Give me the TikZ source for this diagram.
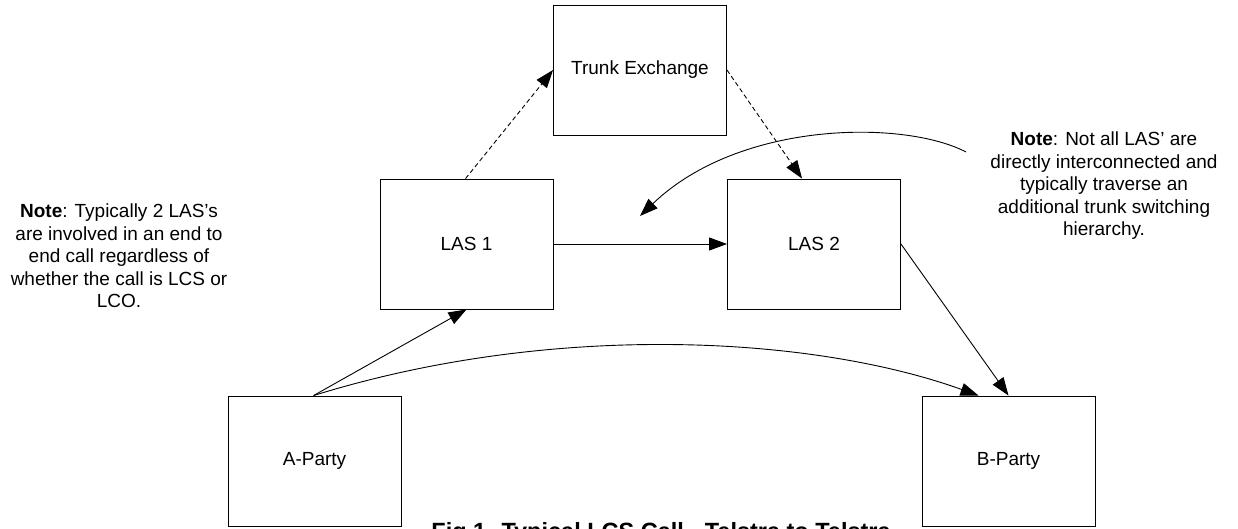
\documentclass[tikz,border=0pt]{standalone}
\usepackage{fontspec}
\setmainfont{Liberation Sans}
\usetikzlibrary{arrows.meta,positioning}

\begin{document}
\begin{tikzpicture}[x=1pt,y=-1pt,line width=0.9pt,
  font=\fontsize{19}{22.5}\selectfont,
  unit/.style={draw,minimum width=173pt,minimum height=130pt,inner sep=0pt},
  note/.style={align=center,inner sep=0pt},
  link/.style={-{Triangle[length=18pt,width=13pt]}},
  trunk/.style={link,dash pattern=on 4.5pt off 3pt}]
\useasboundingbox (0,0) rectangle (1238,529);
% exchanges
\node[unit] (te) at (640,70) {Trunk Exchange};
\node[unit] (las1) at (466.5,244) {LAS 1};
\node[unit] (las2) at (814,244) {LAS 2};
% parties
\node[unit] (ap) at (314.5,461) {A-Party};
\node[unit] (bp) at (1008.5,461) {B-Party};
% notes
\node[note] (n1) at (119,256) {\textbf{Note}: Typically 2 LAS’s\\are involved in an end to\\end call regardless of\\whether the call is LCS or\\LCO.};
\node[note] (n2) at (1104,186) {\textbf{Note}: Not all LAS’ are\\directly interconnected and\\typically traverse an\\additional trunk switching\\hierarchy.};
\coordinate (ns) at (966,152);
\coordinate (ne) at (640,216);
% attachment points on the box edges
\coordinate (l1t) at ([xshift=86pt]las1.north west);
\coordinate (l2t) at ([xshift=75pt]las2.north west);
\coordinate (apt) at ([xshift=86pt]ap.north west);
\coordinate (bpt) at ([xshift=57pt]bp.north west);
% connections
\draw[trunk] (l1t) -- (te.west);
\draw[trunk] (te.east) -- (l2t);
\draw[link] (las1.east) -- (las2.west);
\draw[link] (apt) -- (las1.south);
\draw[link] (apt) .. controls (550,322) and (810,335) .. (bpt);
\draw[link] (las2.east) -- (bp.north);
\draw[link] (ns) .. controls (905,120) and (740,120) .. (ne);
% caption
\node[anchor=base west,inner sep=0pt,font=\fontsize{23.5}{26}\selectfont\bfseries] (cap) at (431,539.5) {Fig 1. Typical LCS Call - Telstra to Telstra};
\end{tikzpicture}
\end{document}
